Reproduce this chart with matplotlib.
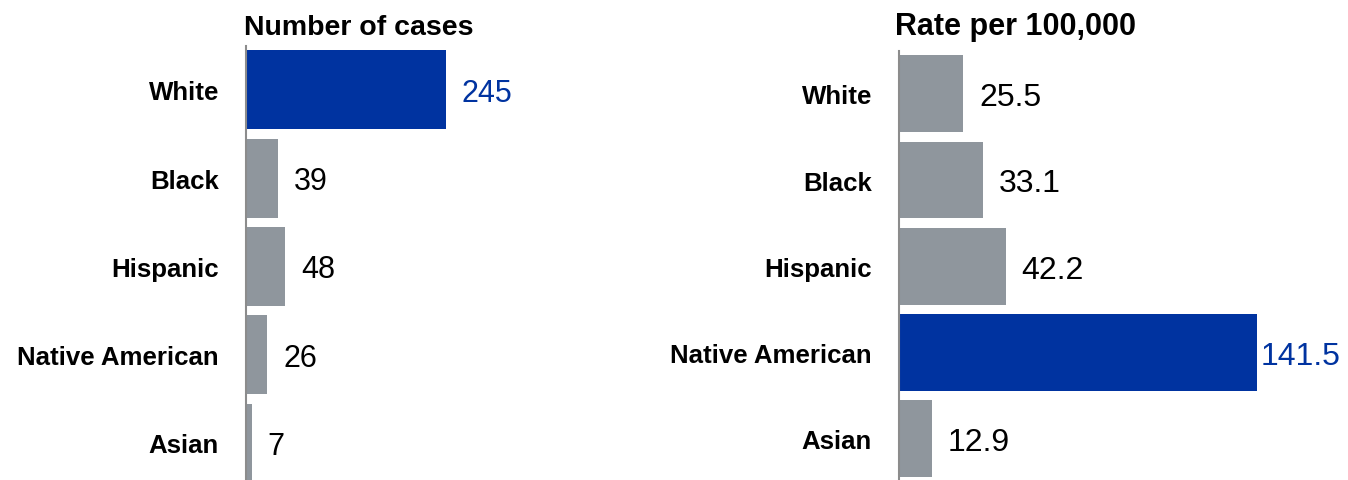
# -*- coding: utf-8 -*-
"""
Cases and rates per 100,000 by race/ethnicity (horizontal bars)
"""

import matplotlib
matplotlib.use('Agg')
import matplotlib.pyplot as plt


plt.rcParams['font.family'] = ['Liberation Sans', 'DejaVu Sans']

#------------------------------------------------------------------------------
# data
#
groups = ['White', 'Black', 'Hispanic', 'Native American', 'Asian']
cases  = [245, 39, 48, 26, 7]
rates  = [25.5, 33.1, 42.2, 141.5, 12.9]
rate_labels = ['25.5', '33.1', '42.2', '141.5', '12.9']

title_cases = 'Number of cases'
title_rates = 'Rate per 100,000'

# extra for plotting
blue = '#0033A0'
grey = '#8F969D'
spine_col = '#8C8C8C'
W, H = 1348, 481     # figure size in pixels
dpi = 100
lab_fs = 18.6        # category labels
val_fs = 22          # value labels
tit_fs = 20.5        # panel titles


def panel(ax, vals, texts, hl, ylim, gap_pts, fsize):
    cols = [blue if i == hl else grey for i in range(len(vals))]
    ypos = list(range(len(vals)))
    ax.barh(ypos, vals, height=0.893, color=cols, edgecolor='none')
    ax.set_ylim(*ylim)
    ax.set_yticks(ypos)
    ax.set_yticklabels(groups, fontsize=lab_fs, fontweight='bold')
    ax.tick_params(axis='y', length=0, pad=19.5)
    ax.set_xticks([])
    for s in ['top', 'right', 'bottom']:
        ax.spines[s].set_visible(False)
    ax.spines['left'].set_color(spine_col)
    ax.spines['left'].set_linewidth(1.5)
    # values: baseline dropped by half the digit height so digits sit centred
    for i, (v, t) in enumerate(zip(vals, texts)):
        ax.annotate(t, xy=(v, i), xytext=(gap_pts[i], -0.358*fsize),
                    textcoords='offset points', va='baseline', ha='left',
                    fontsize=fsize, color=blue if i == hl else 'black')


fig = plt.figure(figsize=(W/dpi, H/dpi), dpi=dpi)

#------------------------------------------------------------------------------
# Number of cases
ax1 = fig.add_axes([246/W, 0, 400/W, (481-46.7)/H])
ax1.set_xlim(0, 400/(200/245))
panel(ax1, cases, [str(c) for c in cases], 0, (4.42, -0.5),
      [11.5]*5, val_fs)
fig.text(244/W, 1-35/H, title_cases, fontsize=tit_fs, fontweight='bold',
         ha='left', va='baseline')

#------------------------------------------------------------------------------
# Rate per 100,000
ax2 = fig.add_axes([899/W, 0, 440/W, (481-51.7)/H])
ax2.set_xlim(0, 440/((1256.7-899)/141.5))
panel(ax2, rates, rate_labels, 3, (4.48, -0.5),
      [11.5, 11.5, 11.5, 3, 11.5], val_fs+1)
fig.text(895/W, 1-35/H, title_rates, fontsize=tit_fs+1.5, fontweight='bold',
         ha='left', va='baseline')

plt.savefig('out.png', dpi=dpi)
